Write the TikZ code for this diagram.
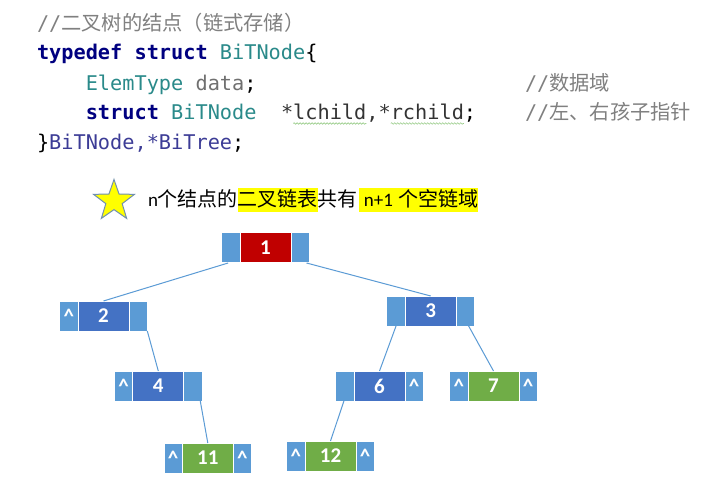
\documentclass[tikz,border=0pt]{standalone}
\usepackage{fontspec}
\setmainfont{Carlito}
\newfontfamily\cjkf{Noto Sans CJK SC}
\newfontfamily\codef{DejaVu Sans Mono}
\usetikzlibrary{shapes.geometric,calc,decorations.pathmorphing}
\definecolor{sidec}{HTML}{5B9BD5}
\definecolor{bluec}{HTML}{4472C4}
\definecolor{redc}{HTML}{C00000}
\definecolor{greenc}{HTML}{70AD47}
\definecolor{navyc}{HTML}{000080}
\definecolor{tealc}{HTML}{2A8A8A}
\definecolor{grayc}{HTML}{808080}
\definecolor{purpc}{HTML}{3C3C96}
\definecolor{datac}{HTML}{707070}
\definecolor{ptrc}{HTML}{333333}
\definecolor{hlc}{HTML}{FFFF00}
\definecolor{wavec}{HTML}{9ACD8A}
\definecolor{starline}{HTML}{7090B0}
\newcommand\nulptr{\textasciicircum}
\newcommand\bnode[6]{%
  \node[midcell, fill=#3] (#1) at (#2) {#4};
  \node[sidecell, anchor=east] (#1l) at (#1.west) {#5};
  \node[sidecell, anchor=west] (#1r) at (#1.east) {#6};}
\begin{document}
\begin{tikzpicture}[x=1pt,y=-1pt,
  code/.style={anchor=base west, inner sep=0, outer sep=0, font=\codef\fontsize{20.26}{24}\selectfont},
  cmt/.style={code, text=grayc},
  tx/.style={anchor=base west, inner sep=0, outer sep=0, text=black, font=\fontsize{19}{22}\selectfont},
  hl/.style={fill=hlc, text height=19pt, text depth=5pt},
  cell/.style={draw=white, line width=1pt, inner sep=0, outer sep=0, minimum height=30, text=white, font=\bfseries\fontsize{21}{21}\selectfont},
  midcell/.style={cell, minimum width=51},
  sidecell/.style={cell, fill=sidec, minimum width=18.3},
  edge/.style={draw=sidec, line width=1pt},
  wavy/.style={draw=wavec, line width=0.6pt, decorate, decoration={snake, amplitude=0.8pt, segment length=3pt}}]
\useasboundingbox (0,0) rectangle (723,489);
\fill[white] (0,0) rectangle (723,489);
% code block
\node[cmt] (c1) at (37,31) {//{\cjkf 二叉树的结点（链式存储）}};
\node[code] (c2) at (37,60) {{\color{navyc}\bfseries typedef struct} {\color{tealc}BiTNode}\{};
\node[code] (c3) at (85.8,90.5) {{\color{tealc}ElemType} {\color{datac}data};};
\node[cmt] (c3c) at (525,90.5) {//{\cjkf 数据域}};
\node[code] (c4) at (85.8,120) {{\color{navyc}\bfseries struct} {\color{tealc}BiTNode}};
\node[code, text=ptrc] (c4a) at (281,120) {*};
\node[code, text=ptrc] (lc) at (c4a.base east) {lchild};
\node[code, text=ptrc] (c4b) at (lc.base east) {,*};
\node[code, text=ptrc] (rc) at (c4b.base east) {rchild};
\node[code, text=black] (c4c) at (rc.base east) {;};
\node[cmt] (c4d) at (525,120) {//{\cjkf 左、右孩子指针}};
\node[code] (c5) at (37,150) {\}{\color{purpc}BiTNode,*BiTree};};
\draw[wavy] ($(lc.base west)+(0,3.5)$) -- ($(lc.base east)+(0,3.5)$);
\draw[wavy] ($(rc.base west)+(0,3.5)$) -- ($(rc.base east)+(0,3.5)$);
% star line
\node[star, star points=5, star point ratio=2.5, minimum size=43, inner sep=0, fill=hlc, draw=starline, line width=1pt] (st) at (114,201) {};
\node[tx] (t1) at (148,207) {n{\cjkf\fontsize{20}{22}\selectfont 个结点的}};
\node[tx, hl] (t2) at (t1.base east) {\cjkf\fontsize{20}{22}\selectfont 二叉链表};
\node[tx] (t3) at (t2.base east) {\cjkf\fontsize{20}{22}\selectfont 共有};
\node[tx, hl] (t4) at ($(t3.base east)+(1,0)$) {\hspace*{5pt}n+1\hspace*{5pt}{\cjkf\fontsize{20}{22}\selectfont 个空链域}};
% tree
\bnode{n1}{265.5,248}{redc}{1}{}{}
\bnode{n2}{103.5,316}{bluec}{2}{\nulptr}{}
\bnode{n3}{430.7,311}{bluec}{3}{}{}
\bnode{n4}{158.3,386}{bluec}{4}{\nulptr}{}
\bnode{n6}{379.5,386}{bluec}{6}{}{\nulptr}
\bnode{n7}{493.5,386}{greenc}{7}{\nulptr}{\nulptr}
\bnode{n11}{207.8,458}{greenc}{11}{\nulptr}{\nulptr}
\bnode{n12}{330.5,456}{greenc}{12}{\nulptr}{\nulptr}
\draw[edge] ($(n1l.south west)!0.35!(n1l.south east)$) -- (n2.north);
\draw[edge] ($(n1r.south west)!0.85!(n1r.south east)$) -- (n3.north);
\draw[edge] (n2r.south east) -- (n4.north);
\draw[edge] ($(n4r.south west)!0.9!(n4r.south east)$) -- (n11.north);
\draw[edge] (n3l.south) -- (n6.north);
\draw[edge] ($(n3r.south west)!0.68!(n3r.south east)$) -- (n7.north);
\draw[edge] ($(n6l.south west)!0.45!(n6l.south east)$) -- (n12.north);
\end{tikzpicture}
\end{document}
